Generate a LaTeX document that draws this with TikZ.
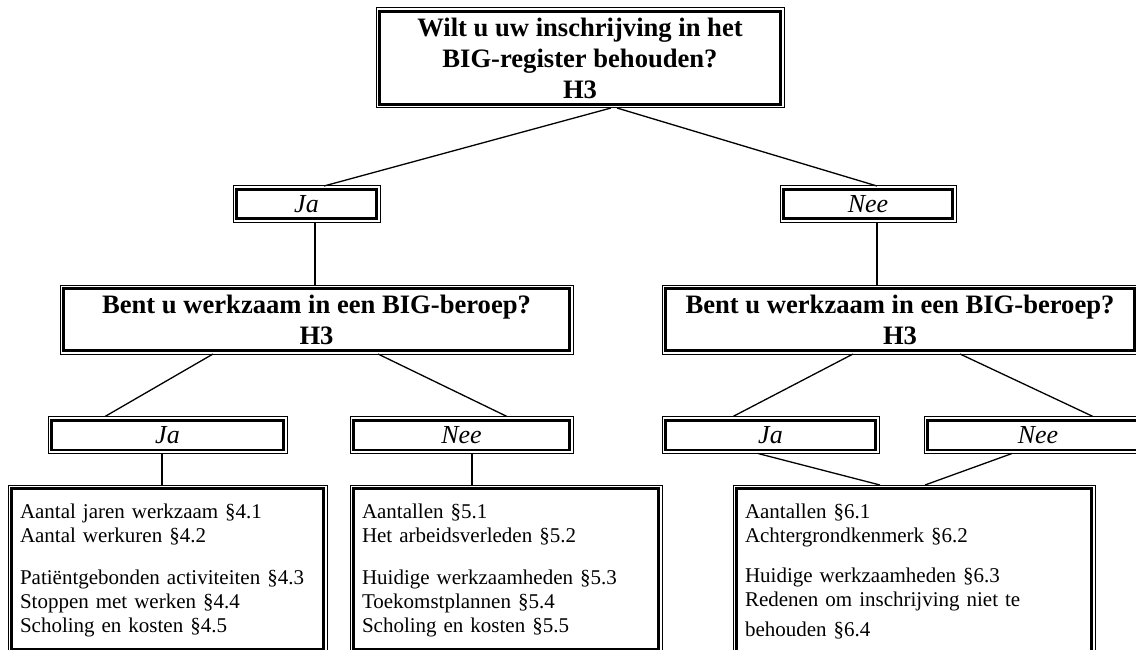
\documentclass[tikz,border=0pt]{standalone}
\usepackage{fontspec}
\setmainfont{Liberation Serif}

\begin{document}
\begin{tikzpicture}[x=1pt, y=-1pt,
	frame/.style={draw, line width=1pt, inner sep=0pt, outer sep=0pt,
		path picture={\draw[line width=2.8pt] ([shift={(3.6pt,-3.6pt)}]path picture bounding box.north west) rectangle ([shift={(-3.6pt,3.6pt)}]path picture bounding box.south east);}},
	question/.style={frame, align=center, font=\fontsize{26.6}{31}\selectfont\bfseries},
	answer/.style={frame, font=\fontsize{26}{30}\selectfont\itshape},
	topics/.style={frame, anchor=north west, align=left, inner xsep=12pt, inner ysep=16.2pt, font=\fontsize{21}{24}\selectfont},
	link/.style={line width=1.3pt},
	stem/.style={line width=1.8pt}]
	\useasboundingbox (0,0) rectangle (1136,650);
	\clip (0,0) rectangle (1136,650);
	\fill[white] (0,0) rectangle (1136,650);
	\node (q0) [question, minimum width=408, minimum height=100] at (580,58) {Wilt u uw inschrijving in het\\BIG-register behouden?\\H3};
	\node (ja0) [answer, minimum width=147, minimum height=36] at (306.5,204) {Ja};
	\node (nee0) [answer, minimum width=176, minimum height=36] at (868,204) {Nee};
	\node (q1) [question, minimum width=513, minimum height=69] at (316.5,319.5) {Bent u werkzaam in een BIG-beroep?\\H3};
	\node (q2) [question, minimum width=476, minimum height=69] at (900,319.5) {Bent u werkzaam in een BIG-beroep?\\H3};
	\node (ja1) [answer, minimum width=239, minimum height=37] at (167.5,435) {Ja};
	\node (nee1) [answer, minimum width=223, minimum height=37] at (461.5,435) {Nee};
	\node (ja2) [answer, minimum width=217, minimum height=37] at (770.5,435) {Ja};
	\node (nee2) [answer, minimum width=228, minimum height=37] at (1038,435) {Nee};
	\node (lst1) [topics, text width=295] at (8,485) {\strut Aantal jaren werkzaam §4.1\\Aantal werkuren §4.2\\[18pt]Patiëntgebonden activiteiten §4.3\\Stoppen met werken §4.4\\Scholing en kosten §4.5};
	\node (lst2) [topics, text width=288] at (350,485) {\strut Aantallen §5.1\\Het arbeidsverleden §5.2\\[18pt]Huidige werkzaamheden §5.3\\Toekomstplannen §5.4\\Scholing en kosten §5.5};
	\node (lst3) [topics, text width=338] at (733,485) {\strut Aantallen §6.1\\Achtergrondkenmerk §6.2\\[16pt]Huidige werkzaamheden §6.3\\Redenen om inschrijving niet te\\[6pt]behouden §6.4};
	\draw[link] ([shift={(31,0)}]q0.south) -- ([shift={(17.5,0)}]ja0.north);
	\draw[link] ([shift={(37,0)}]q0.south) -- ([shift={(9,0)}]nee0.north);
	\draw[stem] ([shift={(8.5,0)}]ja0.south) -- ([shift={(-1.5,0)}]q1.north);
	\draw[stem] ([shift={(9,0)}]nee0.south) -- ([shift={(-23,0)}]q2.north);
	\draw[link] ([shift={(-103.5,0)}]q1.south) -- ([shift={(-62.5,0)}]ja1.north);
	\draw[link] ([shift={(61.5,0)}]q1.south) -- ([shift={(45.5,0)}]nee1.north);
	\draw[link] ([shift={(-47,0)}]q2.south) -- ([shift={(-37.5,0)}]ja2.north);
	\draw[link] ([shift={(60,0)}]q2.south) -- ([shift={(55,0)}]nee2.north);
	\draw[stem] ([shift={(-5.5,0)}]ja1.south) -- ([shift={(-5.5,0)}]lst1.north);
	\draw[stem] ([shift={(10.5,0)}]nee1.south) -- ([shift={(-34,0)}]lst2.north);
	\draw[link] ([shift={(-12.5,0)}]ja2.south) -- ([shift={(-34,0)}]lst3.north);
	\draw[link] ([shift={(-26,0)}]nee2.south) -- ([shift={(11,0)}]lst3.north);
\end{tikzpicture}
\end{document}
